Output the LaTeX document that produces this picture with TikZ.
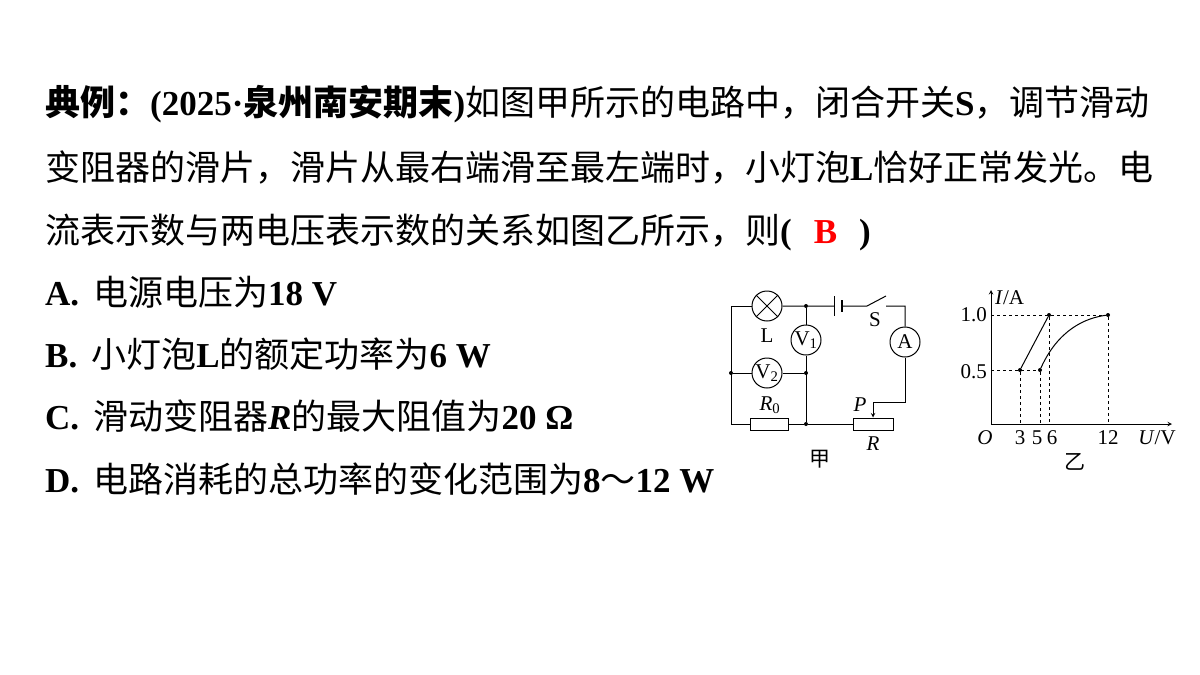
\documentclass[tikz,border=0pt]{standalone}
\usepackage{fontspec}
\setmainfont{Liberation Serif}
\newfontfamily\cjk{Noto Sans CJK SC}
\newcommand{\zh}[1]{{\cjk #1}}
\usetikzlibrary{positioning}
\begin{document}
\begin{tikzpicture}[x=1pt,y=-1pt,
  qline/.style={anchor=base west,inner sep=0pt,font=\fontsize{35}{40}\selectfont},
  meter/.style={draw,circle,minimum size=30pt,inner sep=0pt,font=\fontsize{21}{21}\selectfont},
  res/.style={draw,minimum width=38pt,minimum height=12pt,inner sep=0pt},
  lbl/.style={font=\fontsize{21}{21}\selectfont,inner sep=1pt},
  dot/.style={circle,fill,inner sep=0pt,minimum size=4pt},
  guide/.style={dashed,line width=.8pt},
  thin/.style={line width=1pt}]
\useasboundingbox (0,0) rectangle (1200,675);

% question text
\node[qline] (q1) at (45,115) {\textbf{\zh{典例：}(2025·\zh{泉州南安期末})}\zh{如图甲所示的电路中，闭合开关}\textbf{S}\zh{，调节滑动}};
\node[qline] (q2) at (45,180) {\zh{变阻器的滑片，滑片从最右端滑至最左端时，小灯泡}\textbf{L}\zh{恰好正常发光。电}};
\node[qline] (q3) at (45,243) {\zh{流表示数与两电压表示数的关系如图乙所示，则}\textbf{(\hspace{22pt}\textcolor{red}{B}\hspace{22pt})}};
\node[qline] (oa) at (45,305) {\textbf{A.}\hspace{14pt}\zh{电源电压为}\textbf{18 V}};
\node[qline] (ob) at (45,367) {\textbf{B.}\hspace{14pt}\zh{小灯泡}\textbf{L}\zh{的额定功率为}\textbf{6 W}};
\node[qline] (oc) at (45,429) {\textbf{C.}\hspace{14pt}\zh{滑动变阻器}\textbf{\textit{R}}\zh{的最大阻值为}\textbf{20 Ω}};
\node[qline] (od) at (45,492) {\textbf{D.}\hspace{14pt}\zh{电路消耗的总功率的变化范围为}\textbf{8}\zh{～}\textbf{12 W}};

% circuit (jia)
\node[draw,thin,circle,minimum size=30pt,inner sep=0pt] (L) at (767,306) {};
\draw[thin] (L.north east)--(L.south west) (L.north west)--(L.south east);
\node[meter,thin] (V1) at (806,340) {V\textsubscript{1}};
\node[meter,thin] (V2) at (767,373) {V\textsubscript{2}};
\node[meter,thin] (A) at (905,342) {A};
\node[res,thin] (R0) at (769,424) {};
\node[res,thin,minimum width=40pt] (R) at (873,424) {};
\coordinate (tl) at (731,306); \coordinate (bl) at (731,424);
\node[dot] (j1) at (806,306) {}; \node[dot] (j2) at (806,373) {};
\node[dot] (j3) at (806,424) {}; \node[dot] (j4) at (731,373) {};
\coordinate (b1) at (834,306); \coordinate (b2) at (842,306);
\coordinate (s1) at (867,306); \coordinate (s2) at (886,296);
\coordinate (s3) at (886,306); \coordinate (tr) at (905,306);
\coordinate (br) at (905,402); \coordinate (pt) at (873,402);
\draw[thin] (L.west)--(tl)--(bl)--(R0.west) (R0.east)--(j3)--(R.west);
\draw[thin] (L.east)--(j1)--(b1) (b2)--(s1)--(s2) (s3)--(tr)--(A.north);
\draw[thin] (j1)--(V1.north) (V1.south)--(j3);
\draw[thin] (j4)--(V2.west) (V2.east)--(j2);
\draw[thin] (A.south)--(br)--(pt);
\draw[thin,-stealth] (pt)--(R.north);
\draw[line width=1pt] (834,296)--(834,316);
\draw[line width=1.6pt] (842,300)--(842,312);
\node[lbl] at (767,336) {L};
\node[lbl] at (875,320) {S};
\node[lbl] at (770,405) {\textit{R}\textsubscript{0}};
\node[lbl] at (860,405) {\textit{P}};
\node[lbl] at (873,444) {\textit{R}};
\node[lbl,font=\cjk\fontsize{21}{21}\selectfont] at (820,459) {甲};

% graph (yi)
\coordinate (O) at (991,424);
\draw[thin,-stealth] (O)--(1172,424);
\draw[thin,-stealth] (O)--(991,290);
\node[dot] (p1) at (1020,370) {}; \node[dot] (p2) at (1049,315) {};
\node[dot] (p3) at (1040,370) {}; \node[dot] (p4) at (1108,315) {};
\draw[guide] (991,370)--(p3) (991,315)--(p4);
\draw[guide] (p1)--(1020,424) (p3)--(1040,424) (p2)--(1049,424) (p4)--(1108,424);
\draw[thin] (p1)--(p2);
\draw[thin] (p3) .. controls (1058,330) and (1085,318) .. (p4);
\node[lbl,anchor=east] at (988,315) {1.0};
\node[lbl,anchor=east] at (988,372) {0.5};
\node[lbl,anchor=west] at (994,298) {\textit{I}/A};
\node[lbl] at (985,438) {\textit{O}};
\node[lbl] at (1020,438) {3};
\node[lbl] at (1037,438) {5};
\node[lbl] at (1052,438) {6};
\node[lbl] at (1108,438) {12};
\node[lbl] at (1157,438) {\textit{U}/V};
\node[lbl,font=\cjk\fontsize{21}{21}\selectfont] at (1075,462) {乙};
\end{tikzpicture}
\end{document}
